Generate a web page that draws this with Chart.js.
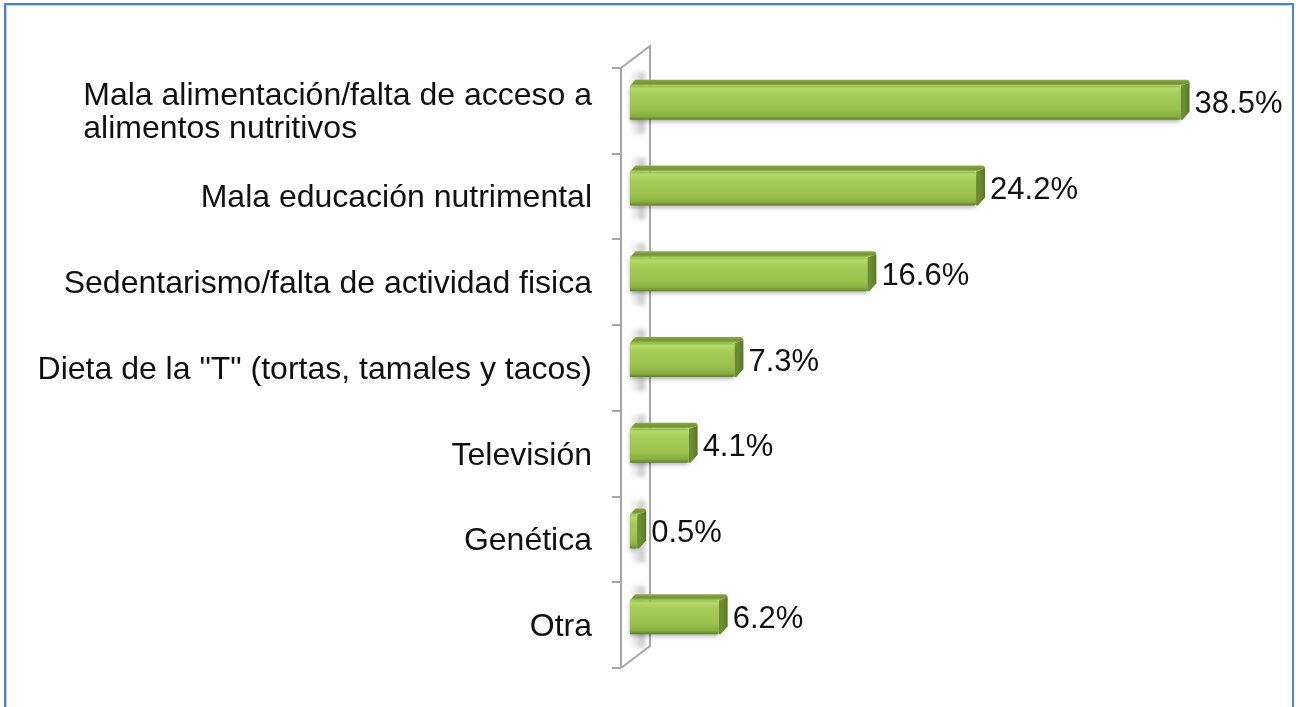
<!DOCTYPE html>
<html lang="es">
<head>
<meta charset="utf-8">
<title>Causas de la obesidad</title>
<script src="https://cdn.jsdelivr.net/npm/chart.js@4.4.1/dist/chart.umd.min.js"></script>
<style>
  html, body { margin: 0; padding: 0; background: #fff; overflow: hidden; width: 1300px; height: 707px; }
  #frame  { position: absolute; left: 4px; top: 3px; width: 1286px; height: 760px;
            border: 2px solid #4f81bd; box-shadow: inset 1px 1px 0 #b9cfee; }
  #chart  { position: absolute; left: 0; top: 0; }
</style>
</head>
<body>
<div id="frame"></div>
<canvas id="chart" width="1300" height="707"></canvas>

<script>
// Percent of answers per perceived cause, top to bottom.
const categories = [
  ['Mala alimentación/falta de acceso a', 'alimentos nutritivos'],
  'Mala educación nutrimental',
  'Sedentarismo/falta de actividad fisica',
  'Dieta de la "T" (tortas, tamales y tacos)',
  'Televisión',
  'Genética',
  'Otra',
];
const shares      = [38.5, 24.2, 16.6, 7.3, 4.1, 0.5, 6.2];
const valueLabels = ['38.5%', '24.2%', '16.6%', '7.3%', '4.1%', '0.5%', '6.2%'];
const axisMax     = 40;

const FONT   = '"Liberation Sans", Arial, sans-serif';
const DEPTH_X = 9;    // 3D depth of the bars
const DEPTH_Y = 6;
const LIFT    = -8;   // bars sit a little above the wall's band centres

// Side wall with its tick marks, plus the soft shadow each bar casts on it
const wall3d = {
  id: 'wall3d',
  beforeDatasetsDraw(chart) {
    const { ctx, chartArea: a } = chart;
    const xl = a.left - 9, xr = a.left + 20;
    const rise = 22;

    ctx.save();
    // bar shadows on the wall
    const meta = chart.getDatasetMeta(0);
    ctx.filter = 'blur(2px)';
    meta.data.forEach(el => {
      const { y, height } = el.getProps(['y', 'height'], true);
      const top = y + LIFT - height / 2;
      const g = ctx.createLinearGradient(a.left, 0, a.left + 16, 0);
      g.addColorStop(0, 'rgba(150,150,150,0.05)');
      g.addColorStop(0.45, 'rgba(150,150,150,0.25)');
      g.addColorStop(0.8, 'rgba(130,130,130,0.5)');
      g.addColorStop(1, 'rgba(150,150,150,0.1)');
      ctx.fillStyle = g;
      ctx.fillRect(a.left + 1, top - 14, 15, height + 28);
    });
    ctx.filter = 'none';

    ctx.strokeStyle = '#a6a6a6';
    ctx.lineWidth = 2;
    ctx.beginPath();
    ctx.moveTo(xl, a.bottom);
    ctx.lineTo(xl, a.top);
    ctx.lineTo(xr, a.top - rise);
    ctx.lineTo(xr, a.bottom - rise);
    ctx.lineTo(xl, a.bottom);
    ctx.stroke();

    // tick marks at category boundaries
    const n = chart.data.labels.length;
    const band = (a.bottom - a.top) / n;
    ctx.beginPath();
    for (let i = 0; i <= n; i++) {
      const ty = Math.round(a.top + band * i);
      ctx.moveTo(xl - 9, ty);
      ctx.lineTo(xl, ty);
    }
    ctx.stroke();
    ctx.restore();
  },
};

// Bevelled green bars with top and side faces, and their value labels
const bars3d = {
  id: 'bars3d',
  afterDatasetsDraw(chart) {
    const { ctx } = chart;
    const meta = chart.getDatasetMeta(0);
    ctx.save();
    meta.data.forEach((el, i) => {
      const { x, y, base, height } = el.getProps(['x', 'y', 'base', 'height'], true);
      const x0 = base, x1 = x;
      const top = y + LIFT - height / 2, bot = top + height;

      // top face
      const gt = ctx.createLinearGradient(0, top - DEPTH_Y, 0, top);
      gt.addColorStop(0, '#8aa948');
      gt.addColorStop(0.6, '#739334');
      gt.addColorStop(1, '#a9cf5d');
      ctx.fillStyle = gt;
      ctx.beginPath();
      ctx.moveTo(x0, top);
      ctx.lineTo(x0 + DEPTH_X * 0.6, top - DEPTH_Y);
      ctx.lineTo(x1 + DEPTH_X - 3, top - DEPTH_Y);
      ctx.quadraticCurveTo(x1 + DEPTH_X, top - DEPTH_Y, x1 + DEPTH_X, top - DEPTH_Y + 3);
      ctx.lineTo(x1, top);
      ctx.closePath();
      ctx.fill();

      // side face
      const gs = ctx.createLinearGradient(x1, 0, x1 + DEPTH_X, 0);
      gs.addColorStop(0, '#7b9c38');
      gs.addColorStop(1, '#5a7625');
      ctx.fillStyle = gs;
      ctx.beginPath();
      ctx.moveTo(x1, top);
      ctx.lineTo(x1 + DEPTH_X, top - DEPTH_Y + 3);
      ctx.lineTo(x1 + DEPTH_X, bot - DEPTH_Y - 2);
      ctx.lineTo(x1 + 2, bot);
      ctx.lineTo(x1, bot);
      ctx.closePath();
      ctx.fill();

      // front face
      const gf = ctx.createLinearGradient(0, top, 0, bot);
      gf.addColorStop(0, '#94bb4a');
      gf.addColorStop(0.08, '#b4da68');
      gf.addColorStop(0.25, '#a6cd58');
      gf.addColorStop(0.7, '#9ac14c');
      gf.addColorStop(0.9, '#88ad40');
      gf.addColorStop(1, '#5f7d28');
      ctx.save();
      ctx.shadowColor = 'rgba(0,0,0,0.3)';
      ctx.shadowBlur = 4;
      ctx.shadowOffsetY = 2;
      ctx.fillStyle = gf;
      ctx.beginPath();
      ctx.roundRect(x0, top, Math.max(x1 - x0, 1), height, [0, 2, 2, 0]);
      ctx.fill();
      ctx.restore();

      // value label
      ctx.fillStyle = '#111';
      ctx.font = '31px ' + FONT;
      ctx.textAlign = 'left';
      ctx.textBaseline = 'middle';
      ctx.fillText(valueLabels[i], x1 + 14, (top + bot) / 2 + 2);
    });
    ctx.restore();
  },
};

// Category labels: block right-aligned to the axis, lines left-aligned inside it
const catLabels = {
  id: 'catLabels',
  afterDraw(chart) {
    const { ctx, chartArea: a } = chart;
    const yScale = chart.scales.y;
    const right = a.left - 38;
    const lineH = 33;
    ctx.save();
    ctx.font = '32px ' + FONT;
    ctx.fillStyle = '#111';
    ctx.textAlign = 'left';
    ctx.textBaseline = 'middle';
    chart.data.labels.forEach((lab, i) => {
      const lines = Array.isArray(lab) ? lab : [lab];
      const w = Math.max(...lines.map(l => ctx.measureText(l).width));
      const cy = yScale.getPixelForValue(i);
      lines.forEach((l, k) => {
        ctx.fillText(l, right - w, cy + (k - (lines.length - 1) / 2) * lineH + 2);
      });
    });
    ctx.restore();
  },
};

new Chart(document.getElementById('chart'), {
  type: 'bar',
  data: {
    labels: categories,
    datasets: [{
      data:            shares,
      backgroundColor: 'rgba(0,0,0,0)',
      borderWidth:     0,
      barThickness:    34,
    }],
  },
  options: {
    indexAxis: 'y',
    responsive: false,
    animation: false,
    layout: { padding: { left: 0, top: 68, right: 98, bottom: 39 } },
    plugins: { legend: { display: false }, tooltip: { enabled: false } },
    scales: {
      x: { display: false, min: 0, max: axisMax },
      y: {
        grid:   { display: false },
        border: { display: false },
        ticks:  { display: false },
        afterFit(scale) { scale.width = 630; },
      },
    },
  },
  plugins: [wall3d, bars3d, catLabels],
});
</script>
</body>
</html>
